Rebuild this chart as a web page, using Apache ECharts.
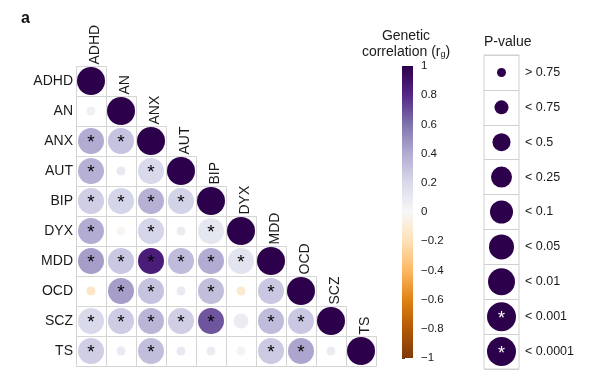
<!DOCTYPE html>
<html><head><meta charset="utf-8">
<script src="https://cdn.jsdelivr.net/npm/echarts@6/dist/echarts.min.js"></script>
<style>html,body{margin:0;padding:0;background:#fff}#c{width:602px;height:382px}</style>
</head><body><div id="c"></div>
<script>
const categories = ['ADHD','AN','ANX','AUT','BIP','DYX','MDD','OCD','SCZ','TS'];
// lower-triangular genetic correlations (row i, columns 0..i)
const rgADHD = [1];
const rgAN   = [0.05, 1];
const rgANX  = [0.40, 0.30, 1];
const rgAUT  = [0.38, 0.10, 0.20, 1];
const rgBIP  = [0.25, 0.22, 0.38, 0.23, 1];
const rgDYX  = [0.40, -0.02, 0.22, 0.08, 0.12, 1];
const rgMDD  = [0.45, 0.28, 0.85, 0.33, 0.40, 0.14, 1];
const rgOCD  = [-0.15, 0.45, 0.30, 0.10, 0.32, -0.12, 0.28, 1];
const rgSCZ  = [0.20, 0.26, 0.36, 0.25, 0.68, 0.08, 0.33, 0.28, 1];
const rgTS   = [0.25, 0.10, 0.32, 0.10, 0.08, 0.03, 0.27, 0.42, 0.08, 1];
const rgRows = [rgADHD, rgAN, rgANX, rgAUT, rgBIP, rgDYX, rgMDD, rgOCD, rgSCZ, rgTS];
// P-value category index (0: > 0.75 ... 8: < 0.0001)
const pADHD = [8];
const pAN   = [0, 8];
const pANX  = [7, 7, 8];
const pAUT  = [7, 0, 7, 8];
const pBIP  = [7, 7, 7, 7, 8];
const pDYX  = [7, 0, 7, 0, 7, 8];
const pMDD  = [7, 7, 7, 7, 7, 7, 8];
const pOCD  = [0, 7, 7, 0, 7, 0, 7, 8];
const pSCZ  = [7, 7, 7, 7, 7, 2, 7, 7, 8];
const pTS   = [7, 0, 7, 0, 0, 0, 7, 7, 0, 8];
const pRows = [pADHD, pAN, pANX, pAUT, pBIP, pDYX, pMDD, pOCD, pSCZ, pTS];
const pLabels = ['> 0.75','< 0.75','< 0.5','< 0.25','< 0.1','< 0.05','< 0.01','< 0.001','< 0.0001'];
const pStarred = [false,false,false,false,false,false,false,true,true];
const cbMin = -1, cbMax = 1, cbStep = 0.2;

const matrixSizes = [9, 12, 15, 18, 20, 22, 24, 26, 28];
const legendSizes = [9, 14, 18, 21, 23, 25, 27, 29, 29];
const puor = ['#7f3b08','#b35806','#e08214','#fdb863','#fee0b6','#f7f7f7','#d8daeb','#b2abd2','#8073ac','#542788','#2d004b'];
const FONT = 'Liberation Sans';

const cellData = [], headerData = [];
rgRows.forEach((row, i) => {
  row.forEach((v, j) => {
    const pc = pRows[i][j];
    cellData.push([j, i, v, pc, (i !== j && pStarred[pc]) ? 1 : 0]);
  });
  headerData.push([i, i, categories[i]]);
});
const legendData = pLabels.map((l, i) => [0, i, i]);

const chart = echarts.init(document.getElementById('c'), null, {renderer: 'canvas'});
chart.setOption({
  animation: false,
  textStyle: {fontFamily: FONT},
  grid: [
    {left: 76, top: 66, width: 300, height: 300},
    {left: 402, top: 66, width: 11, height: 292},
    {left: 484, top: 55, width: 35, height: 314, show: true, borderColor: '#d0d0d0', borderWidth: 1}
  ],
  xAxis: [
    {gridIndex: 0, type: 'category', data: categories, show: false},
    {gridIndex: 1, type: 'value', min: 0, max: 1, show: false},
    {gridIndex: 2, type: 'category', data: ['p'], show: false}
  ],
  yAxis: [
    {gridIndex: 0, type: 'category', data: categories, inverse: true,
     axisLine: {show: false}, axisTick: {show: false}, splitLine: {show: false},
     axisLabel: {fontSize: 14, color: '#1a1a1a', margin: 3, fontFamily: FONT}},
    {gridIndex: 1, type: 'value', min: cbMin, max: cbMax, interval: cbStep, position: 'right',
     axisLine: {show: false}, splitLine: {show: false},
     axisTick: {show: true, length: 3, lineStyle: {color: '#444'}},
     axisLabel: {fontSize: 11.5, color: '#1a1a1a', margin: 8, fontFamily: FONT,
       formatter: v => { const r = Math.round(v * 10) / 10; return (r === 0 ? '0' : String(r)).replace('-', '\u2212'); }}},
    {gridIndex: 2, type: 'category', data: pLabels, inverse: true, position: 'right',
     axisLine: {show: false}, axisTick: {show: false},
     splitLine: {show: true, lineStyle: {color: '#d0d0d0', width: 1}},
     axisLabel: {fontSize: 12.5, color: '#1a1a1a', margin: 6, fontFamily: FONT}}
  ],
  visualMap: {
    show: false, type: 'continuous', min: cbMin, max: cbMax, dimension: 2, seriesIndex: 1,
    inRange: {color: puor}
  },
  graphic: [
    {type: 'text', left: 21, top: 11, style: {text: 'a', font: 'bold 16px "Liberation Sans"', fill: '#111'}},
    {type: 'text', left: 484, top: 35, style: {text: 'P-value', font: '14px "Liberation Sans"', fill: '#1a1a1a'}},
    {type: 'text', x: 406, y: 36, style: {text: 'Genetic', font: '14px "Liberation Sans"', fill: '#1a1a1a', align: 'center', verticalAlign: 'middle'}},
    {type: 'text', x: 406, y: 52, style: {
      text: 'correlation ({s|r}{sub|g})', align: 'center', verticalAlign: 'middle',
      font: '14px "Liberation Sans"', fill: '#1a1a1a',
      rich: {s: {fontSize: 14, fontFamily: FONT, fill: '#1a1a1a'}, sub: {fontSize: 9, fontFamily: FONT, fill: '#1a1a1a', padding: [6, 0, 0, 0]}}
    }}
  ],
  series: [
    {
      type: 'custom', xAxisIndex: 0, yAxisIndex: 0, silent: true,
      data: cellData.map(d => [d[0], d[1]]),
      renderItem: (params, api) => {
        const c = api.coord([api.value(0), api.value(1)]);
        const s = api.size([1, 1]);
        return {type: 'rect', shape: {x: Math.round(c[0] - s[0] / 2) + 0.5, y: Math.round(c[1] - s[1] / 2) + 0.5, width: s[0], height: s[1]},
          style: {fill: 'none', stroke: '#d4d4d4', lineWidth: 1}};
      }
    },
    {
      type: 'scatter', xAxisIndex: 0, yAxisIndex: 0, silent: true,
      data: cellData,
      symbolSize: v => matrixSizes[v[3]],
      itemStyle: {opacity: 1},
      label: {show: true, position: 'inside', formatter: p => p.value[4] ? '*' : '',
        color: '#000', fontSize: 19, fontFamily: FONT, offset: [0, 2]}
    },
    {
      type: 'scatter', xAxisIndex: 0, yAxisIndex: 0, silent: true,
      data: headerData, symbolSize: 1, itemStyle: {color: 'rgba(0,0,0,0)', opacity: 1},
      label: {show: true, position: 'top', distance: 16, rotate: 90, align: 'left', verticalAlign: 'middle',
        formatter: p => p.value[2], fontSize: 14, color: '#1a1a1a', fontFamily: FONT, offset: [0, 4]}
    },
    {
      type: 'custom', xAxisIndex: 1, yAxisIndex: 1, silent: true,
      data: [[0, cbMin, cbMax]],
      renderItem: (params, api) => {
        const tl = api.coord([0, api.value(2)]);
        const br = api.coord([1, api.value(1)]);
        const stops = puor.slice().reverse().map((c, i, a) => ({offset: i / (a.length - 1), color: c}));
        return {type: 'rect', shape: {x: tl[0], y: tl[1], width: br[0] - tl[0], height: br[1] - tl[1]},
          style: {fill: new echarts.graphic.LinearGradient(0, 0, 0, 1, stops)}};
      }
    },
    {
      type: 'scatter', xAxisIndex: 2, yAxisIndex: 2, silent: true,
      data: legendData,
      symbolSize: v => legendSizes[v[2]],
      itemStyle: {color: '#2d004b', opacity: 1},
      label: {show: true, position: 'inside', formatter: p => pStarred[p.value[2]] ? '*' : '',
        color: '#fff', fontSize: 18, fontFamily: FONT, offset: [0, 2]}
    }
  ]
});
</script></body></html>
